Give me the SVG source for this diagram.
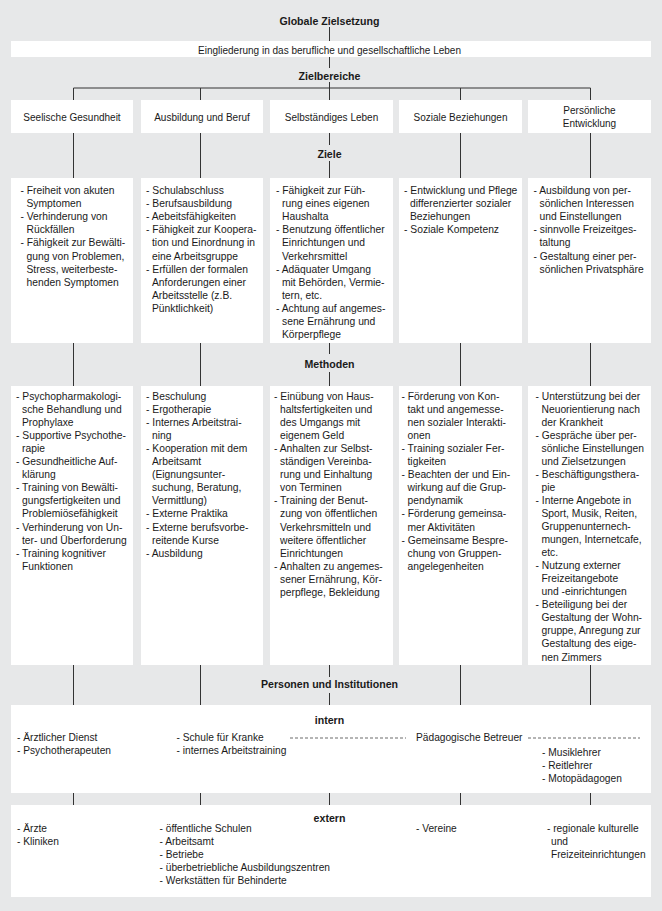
<svg xmlns="http://www.w3.org/2000/svg" width="662" height="911" viewBox="0 0 662 911">
<style>
.bg{fill:#e7e8e9}
.box{fill:#ffffff}
.ln{stroke:#333;stroke-width:1;fill:none}
.dash{stroke:#444;stroke-width:0.8;stroke-dasharray:3 2;fill:none}
text{font-family:"Liberation Sans",Arial,sans-serif;fill:#1a1a1a}
.h{font-size:10.6px;font-weight:bold;text-anchor:middle}
.lab{font-size:10px;text-anchor:middle}
.t{font-size:10.3px}
.p{font-size:10.2px}
</style>
<rect class="bg" x="0" y="0" width="662" height="911"/>

<g id="connectors">
<path class="ln" d="M329.5 27V41 M329.5 57V68 M329.5 82V100 M73.5 88H590.5 M73.5 88V100 M200.5 88V100 M460.5 88V100 M590.5 88V100"/>
<path class="ln" d="M73.5 133V178 M200.5 133V178 M460.5 133V178 M590.5 133V178 M329.5 133V145 M329.5 161V178"/>
<path class="ln" d="M73.5 343V386 M200.5 343V386 M460.5 343V386 M590.5 343V386 M329.5 343V354 M329.5 372V386"/>
<path class="ln" d="M73.5 665V705 M200.5 665V705 M460.5 665V705 M590.5 665V705 M329.5 665V677 M329.5 693V705"/>
<path class="ln" d="M73.5 793V805 M200.5 793V805 M329.5 793V805 M460.5 793V805 M590.5 793V805"/>
</g>

<g id="globale-zielsetzung">
<text class="h" x="329.5" y="24.5">Globale Zielsetzung</text>
</g>
<g id="eingliederung">
<rect class="box" x="11" y="41" width="640" height="16"/>
<text class="lab" x="329.5" y="53.5">Eingliederung in das berufliche und gesellschaftliche Leben</text>
</g>
<g id="zielbereiche-label"><text class="h" x="329.5" y="79.5">Zielbereiche</text></g>

<g id="zb-seelische">
<rect class="box" x="11" y="100" width="122" height="33"/>
<text class="lab" x="72" y="120.5">Seelische Gesundheit</text>
</g>
<g id="zb-ausbildung">
<rect class="box" x="141" y="100" width="122" height="33"/>
<text class="lab" x="202" y="120.5">Ausbildung und Beruf</text>
</g>
<g id="zb-selbststaendig">
<rect class="box" x="270" y="100" width="123" height="33"/>
<text class="lab" x="331.5" y="120.5">Selbständiges Leben</text>
</g>
<g id="zb-soziale">
<rect class="box" x="399" y="100" width="123" height="33"/>
<text class="lab" x="460.5" y="120.5">Soziale Beziehungen</text>
</g>
<g id="zb-persoenlich">
<rect class="box" x="528" y="100" width="123" height="33"/>
<text class="lab" x="589.5" y="113.5">Persönliche</text>
<text class="lab" x="589.5" y="127">Entwicklung</text>
</g>

<g id="ziele-label"><text class="h" x="329.5" y="158">Ziele</text></g>

<g id="ziele-1">
<rect class="box" x="11" y="178" width="122" height="165"/>
<text class="t" y="194">
<tspan x="20.5">- Freiheit von akuten</tspan>
<tspan x="26.5" dy="13.1">Symptomen</tspan>
<tspan x="20.5" dy="13.1">- Verhinderung von</tspan>
<tspan x="26.5" dy="13.1">Rückfällen</tspan>
<tspan x="20.5" dy="13.1">- Fähigkeit zur Bewälti-</tspan>
<tspan x="26.5" dy="13.1">gung von Problemen,</tspan>
<tspan x="26.5" dy="13.1">Stress, weiterbeste-</tspan>
<tspan x="26.5" dy="13.1">henden Symptomen</tspan>
</text>
</g>
<g id="ziele-2">
<rect class="box" x="141" y="178" width="122" height="165"/>
<text class="t" y="194">
<tspan x="146">- Schulabschluss</tspan>
<tspan x="146" dy="13.1">- Berufsausbildung</tspan>
<tspan x="146" dy="13.1">- Aebeitsfähigkeiten</tspan>
<tspan x="146" dy="13.1">- Fähigkeit zur Koopera-</tspan>
<tspan x="152" dy="13.1">tion und Einordnung in</tspan>
<tspan x="152" dy="13.1">eine Arbeitsgruppe</tspan>
<tspan x="146" dy="13.1">- Erfüllen der formalen</tspan>
<tspan x="152" dy="13.1">Anforderungen einer</tspan>
<tspan x="152" dy="13.1">Arbeitsstelle (z.B.</tspan>
<tspan x="152" dy="13.1">Pünktlichkeit)</tspan>
</text>
</g>
<g id="ziele-3">
<rect class="box" x="270" y="178" width="123" height="165"/>
<text class="t" y="194">
<tspan x="276">- Fähigkeit zur Füh-</tspan>
<tspan x="282" dy="13.1">rung eines eigenen</tspan>
<tspan x="282" dy="13.1">Haushalta</tspan>
<tspan x="276" dy="13.1">- Benutzung öffentlicher</tspan>
<tspan x="282" dy="13.1">Einrichtungen und</tspan>
<tspan x="282" dy="13.1">Verkehrsmittel</tspan>
<tspan x="276" dy="13.1">- Adäquater Umgang</tspan>
<tspan x="282" dy="13.1">mit Behörden, Vermie-</tspan>
<tspan x="282" dy="13.1">tern, etc.</tspan>
<tspan x="276" dy="13.1">- Achtung auf angemes-</tspan>
<tspan x="282" dy="13.1">sene Ernährung und</tspan>
<tspan x="282" dy="13.1">Körperpflege</tspan>
</text>
</g>
<g id="ziele-4">
<rect class="box" x="399" y="178" width="123" height="165"/>
<text class="t" y="194">
<tspan x="404">- Entwicklung und Pflege</tspan>
<tspan x="410" dy="13.1">differenzierter sozialer</tspan>
<tspan x="410" dy="13.1">Beziehungen</tspan>
<tspan x="404" dy="13.1">- Soziale Kompetenz</tspan>
</text>
</g>
<g id="ziele-5">
<rect class="box" x="528" y="178" width="123" height="165"/>
<text class="t" y="194">
<tspan x="533.5">- Ausbildung von per-</tspan>
<tspan x="539.5" dy="13.1">sönlichen Interessen</tspan>
<tspan x="539.5" dy="13.1">und Einstellungen</tspan>
<tspan x="533.5" dy="13.1">- sinnvolle Freizeitges-</tspan>
<tspan x="539.5" dy="13.1">taltung</tspan>
<tspan x="533.5" dy="13.1">- Gestaltung einer per-</tspan>
<tspan x="539.5" dy="13.1">sönlichen Privatsphäre</tspan>
</text>
</g>

<g id="methoden-label"><text class="h" x="329.5" y="368">Methoden</text></g>

<g id="methoden-1">
<rect class="box" x="11" y="386" width="122" height="279"/>
<text class="t" y="400">
<tspan x="16">- Psychopharmakologi-</tspan>
<tspan x="22" dy="13.05">sche Behandlung und</tspan>
<tspan x="22" dy="13.05">Prophylaxe</tspan>
<tspan x="16" dy="13.05">- Supportive Psychothe-</tspan>
<tspan x="22" dy="13.05">rapie</tspan>
<tspan x="16" dy="13.05">- Gesundheitliche Auf-</tspan>
<tspan x="22" dy="13.05">klärung</tspan>
<tspan x="16" dy="13.05">- Training von Bewälti-</tspan>
<tspan x="22" dy="13.05">gungsfertigkeiten und</tspan>
<tspan x="22" dy="13.05">Problemiösefähigkeit</tspan>
<tspan x="16" dy="13.05">- Verhinderung von Un-</tspan>
<tspan x="22" dy="13.05">ter- und Überforderung</tspan>
<tspan x="16" dy="13.05">- Training kognitiver</tspan>
<tspan x="22" dy="13.05">Funktionen</tspan>
</text>
</g>
<g id="methoden-2">
<rect class="box" x="141" y="386" width="122" height="279"/>
<text class="t" y="400">
<tspan x="146">- Beschulung</tspan>
<tspan x="146" dy="13.05">- Ergotherapie</tspan>
<tspan x="146" dy="13.05">- Internes Arbeitstrai-</tspan>
<tspan x="152" dy="13.05">ning</tspan>
<tspan x="146" dy="13.05">- Kooperation mit dem</tspan>
<tspan x="152" dy="13.05">Arbeitsamt</tspan>
<tspan x="152" dy="13.05">(Eignungsunter-</tspan>
<tspan x="152" dy="13.05">suchung, Beratung,</tspan>
<tspan x="152" dy="13.05">Vermittlung)</tspan>
<tspan x="146" dy="13.05">- Externe Praktika</tspan>
<tspan x="146" dy="13.05">- Externe berufsvorbe-</tspan>
<tspan x="152" dy="13.05">reitende Kurse</tspan>
<tspan x="146" dy="13.05">- Ausbildung</tspan>
</text>
</g>
<g id="methoden-3">
<rect class="box" x="270" y="386" width="123" height="279"/>
<text class="t" y="400">
<tspan x="274">- Einübung von Haus-</tspan>
<tspan x="280" dy="13.05">haltsfertigkeiten und</tspan>
<tspan x="280" dy="13.05">des Umgangs mit</tspan>
<tspan x="280" dy="13.05">eigenem Geld</tspan>
<tspan x="274" dy="13.05">- Anhalten zur Selbst-</tspan>
<tspan x="280" dy="13.05">ständigen Vereinba-</tspan>
<tspan x="280" dy="13.05">rung und Einhaltung</tspan>
<tspan x="280" dy="13.05">von Terminen</tspan>
<tspan x="274" dy="13.05">- Training der Benut-</tspan>
<tspan x="280" dy="13.05">zung von öffentlichen</tspan>
<tspan x="280" dy="13.05">Verkehrsmitteln und</tspan>
<tspan x="280" dy="13.05">weitere öffentlicher</tspan>
<tspan x="280" dy="13.05">Einrichtungen</tspan>
<tspan x="274" dy="13.05">- Anhalten zu angemes-</tspan>
<tspan x="280" dy="13.05">sener Ernährung, Kör-</tspan>
<tspan x="280" dy="13.05">perpflege, Bekleidung</tspan>
</text>
</g>
<g id="methoden-4">
<rect class="box" x="399" y="386" width="123" height="279"/>
<text class="t" y="400">
<tspan x="401.5">- Förderung von Kon-</tspan>
<tspan x="407.5" dy="13.05">takt und angemesse-</tspan>
<tspan x="407.5" dy="13.05">nen sozialer Interakti-</tspan>
<tspan x="407.5" dy="13.05">onen</tspan>
<tspan x="401.5" dy="13.05">- Training sozialer Fer-</tspan>
<tspan x="407.5" dy="13.05">tigkeiten</tspan>
<tspan x="401.5" dy="13.05">- Beachten der und Ein-</tspan>
<tspan x="407.5" dy="13.05">wirkung auf die Grup-</tspan>
<tspan x="407.5" dy="13.05">pendynamik</tspan>
<tspan x="401.5" dy="13.05">- Förderung gemeinsa-</tspan>
<tspan x="407.5" dy="13.05">mer Aktivitäten</tspan>
<tspan x="401.5" dy="13.05">- Gemeinsame Bespre-</tspan>
<tspan x="407.5" dy="13.05">chung von Gruppen-</tspan>
<tspan x="407.5" dy="13.05">angelegenheiten</tspan>
</text>
</g>
<g id="methoden-5">
<rect class="box" x="528" y="386" width="123" height="279"/>
<text class="t" y="399.5">
<tspan x="535.5">- Unterstützung bei der</tspan>
<tspan x="541.5" dy="13.05">Neuorientierung nach</tspan>
<tspan x="541.5" dy="13.05">der Krankheit</tspan>
<tspan x="535.5" dy="13.05">- Gespräche über per-</tspan>
<tspan x="541.5" dy="13.05">sönliche Einstellungen</tspan>
<tspan x="541.5" dy="13.05">und Zielsetzungen</tspan>
<tspan x="535.5" dy="13.05">- Beschäftigungsthera-</tspan>
<tspan x="541.5" dy="13.05">pie</tspan>
<tspan x="535.5" dy="13.05">- Interne Angebote in</tspan>
<tspan x="541.5" dy="13.05">Sport, Musik, Reiten,</tspan>
<tspan x="541.5" dy="13.05">Gruppenunternech-</tspan>
<tspan x="541.5" dy="13.05">mungen, Internetcafe,</tspan>
<tspan x="541.5" dy="13.05">etc.</tspan>
<tspan x="535.5" dy="13.05">- Nutzung externer</tspan>
<tspan x="541.5" dy="13.05">Freizeitangebote</tspan>
<tspan x="541.5" dy="13.05">und -einrichtungen</tspan>
<tspan x="535.5" dy="13.05">- Beteiligung bei der</tspan>
<tspan x="541.5" dy="13.05">Gestaltung der Wohn-</tspan>
<tspan x="541.5" dy="13.05">gruppe, Anregung zur</tspan>
<tspan x="541.5" dy="13.05">Gestaltung des eige-</tspan>
<tspan x="541.5" dy="13.05">nen Zimmers</tspan>
</text>
</g>

<g id="personen-label"><text class="h" x="329.5" y="688">Personen und Institutionen</text></g>

<g id="intern">
<rect class="box" x="11" y="705" width="640" height="88"/>
<text class="h" x="329.5" y="724">intern</text>
<text class="p" x="17" y="740.5">- Ärztlicher Dienst</text>
<text class="p" x="17" y="753.5">- Psychotherapeuten</text>
<text class="p" x="176.5" y="740.5">- Schule für Kranke</text>
<text class="p" x="176.5" y="753.5">- internes Arbeitstraining</text>
<path class="dash" d="M290 738H406 M528 738H640"/>
<text class="p" x="416" y="740.5">Pädagogische Betreuer</text>
<text class="p" x="542" y="755.5">- Musiklehrer</text>
<text class="p" x="542" y="768.5">- Reitlehrer</text>
<text class="p" x="542" y="781.5">- Motopädagogen</text>
</g>

<g id="extern">
<rect class="box" x="11" y="805" width="640" height="92"/>
<text class="h" x="329.5" y="821.5">extern</text>
<text class="p" x="17" y="832">- Ärzte</text>
<text class="p" x="17" y="845">- Kliniken</text>
<text class="p" x="159.5" y="832">- öffentliche Schulen</text>
<text class="p" x="159.5" y="845">- Arbeitsamt</text>
<text class="p" x="159.5" y="858">- Betriebe</text>
<text class="p" x="159.5" y="871">- überbetriebliche Ausbildungszentren</text>
<text class="p" x="159.5" y="884">- Werkstätten für Behinderte</text>
<text class="p" x="416" y="832">- Vereine</text>
<text class="p" x="547" y="832">- regionale kulturelle</text>
<text class="p" x="551" y="845">und</text>
<text class="p" x="551" y="858">Freizeiteinrichtungen</text>
</g>
</svg>
